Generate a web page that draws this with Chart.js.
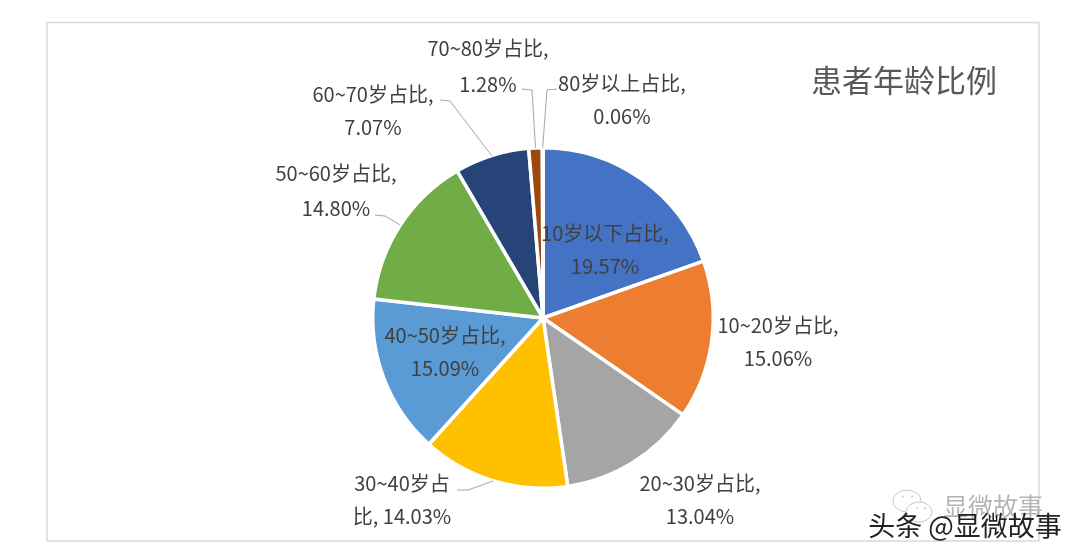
<!DOCTYPE html>
<html lang="zh">
<head>
<meta charset="utf-8">
<title>患者年龄比例</title>
<script src="https://cdn.jsdelivr.net/npm/chart.js@4"></script>
<style>
  html, body { margin: 0; padding: 0; background: #fff; }
  #wrap { position: relative; width: 1080px; height: 557px; }
</style>
</head>
<body>
<div id="wrap"><canvas id="ageChart"></canvas></div>
<script>
// Chart data
const categories = ['10岁以下占比', '10~20岁占比', '20~30岁占比', '30~40岁占比', '40~50岁占比', '50~60岁占比', '60~70岁占比', '70~80岁占比', '80岁以上占比'];
const shares = [19.57, 15.06, 13.04, 14.03, 15.09, 14.80, 7.07, 1.28, 0.06];
const sliceColors = ['#4472C4', '#ED7D31', '#A5A5A5', '#FFC000', '#5B9BD5', '#70AD47', '#264478', '#9E480E', '#636363'];
const chartTitle = '患者年龄比例';

const cjkFont = '"Noto Sans CJK SC", "Noto Sans", sans-serif';

// Label text is built from the data, each entry here only says where it goes
const labelSpots = [
  { x: 605, y: [233, 266] },
  { x: 778, y: [325, 358] },
  { x: 700, y: [483, 516] },
  { x: 402, y: [483, 516], wrap: 7 },
  { x: 445, y: [335, 368] },
  { x: 336, y: [173, 208] },
  { x: 373, y: [94, 127] },
  { x: 488, y: [48, 84] },
  { x: 622, y: [83, 116] }
];

// Elbow of the leader lines, keyed by slice index
const leaders = {
  3: [[457, 490], [468, 490]],
  5: [[375, 215], [385, 216]],
  6: [[440, 100], [450, 101]],
  7: [[522, 89], [532, 90]],
  8: [[557, 89], [547, 90]]
};

function labelLines(i) {
  const text = `${categories[i]}, ${shares[i].toFixed(2)}%`;
  const spot = labelSpots[i];
  if (spot.wrap) {
    return [text.slice(0, spot.wrap), text.slice(spot.wrap)];
  }
  return [`${categories[i]},`, `${shares[i].toFixed(2)}%`];
}

function drawBubble(ctx, x, y, rx, ry, eyes) {
  ctx.fillStyle = '#fff';
  ctx.beginPath();
  ctx.ellipse(x, y, rx, ry, 0, 0, Math.PI * 2);
  ctx.fill();
  ctx.stroke();
  ctx.fillStyle = '#C8C8C8';
  eyes.forEach(eyeX => {
    ctx.beginPath();
    ctx.arc(eyeX, y - ry * 0.4, 1, 0, Math.PI * 2);
    ctx.fill();
  });
}

const decorPlugin = {
  id: 'decor',
  beforeDraw(chart) {
    const ctx = chart.ctx;
    ctx.save();
    ctx.fillStyle = '#fff';
    ctx.fillRect(0, 0, chart.width, chart.height);
    ctx.strokeStyle = '#D9D9D9';
    ctx.lineWidth = 1.5;
    ctx.strokeRect(47, 22.5, 992, 518.5);
    ctx.restore();
  },
  afterDatasetsDraw(chart) {
    const ctx = chart.ctx;
    const arcs = chart.getDatasetMeta(0).data;
    ctx.save();

    // leader lines end on the rim of their slice
    ctx.strokeStyle = '#A6A6A6';
    ctx.lineWidth = 1;
    Object.keys(leaders).forEach(key => {
      const arc = arcs[key];
      const mid = (arc.startAngle + arc.endAngle) / 2;
      const rim = arc.outerRadius;
      ctx.beginPath();
      ctx.moveTo(leaders[key][0][0], leaders[key][0][1]);
      ctx.lineTo(leaders[key][1][0], leaders[key][1][1]);
      ctx.lineTo(arc.x + Math.cos(mid) * rim, arc.y + Math.sin(mid) * rim);
      ctx.stroke();
    });

    // slice labels
    ctx.font = `20px ${cjkFont}`;
    ctx.fillStyle = '#404040';
    ctx.textAlign = 'center';
    ctx.textBaseline = 'middle';
    labelSpots.forEach((spot, i) => {
      labelLines(i).forEach((line, n) => {
        ctx.fillText(line, spot.x, spot.y[n]);
      });
    });

    // title
    ctx.font = `31px ${cjkFont}`;
    ctx.fillStyle = '#595959';
    ctx.fillText(chartTitle, 904, 80);

    // watermarks
    ctx.strokeStyle = '#C8C8C8';
    ctx.lineWidth = 1;
    drawBubble(ctx, 907, 501, 14, 11, [903, 912]);
    drawBubble(ctx, 919, 512, 13, 10, [917, 925]);
    ctx.font = `25px ${cjkFont}`;
    ctx.fillStyle = '#B4B4B4';
    ctx.fillText('显微故事', 993, 506);
    ctx.font = `27px ${cjkFont}`;
    ctx.fillStyle = '#222';
    ctx.fillText('头条 @显微故事', 965, 526);
    ctx.restore();
  }
};

new Chart(document.getElementById('ageChart'), {
  type: 'pie',
  data: {
    labels: categories,
    datasets: [{
      data: shares,
      backgroundColor: sliceColors,
      borderColor: '#fff',
      borderWidth: 3.5
    }]
  },
  options: {
    responsive: true,
    maintainAspectRatio: false,
    animation: false,
    layout: { padding: { top: 146, bottom: 67, left: 371, right: 365 } },
    plugins: {
      legend: { display: false },
      tooltip: { enabled: false },
      title: { display: false }
    }
  },
  plugins: [decorPlugin]
});
</script>
</body>
</html>
